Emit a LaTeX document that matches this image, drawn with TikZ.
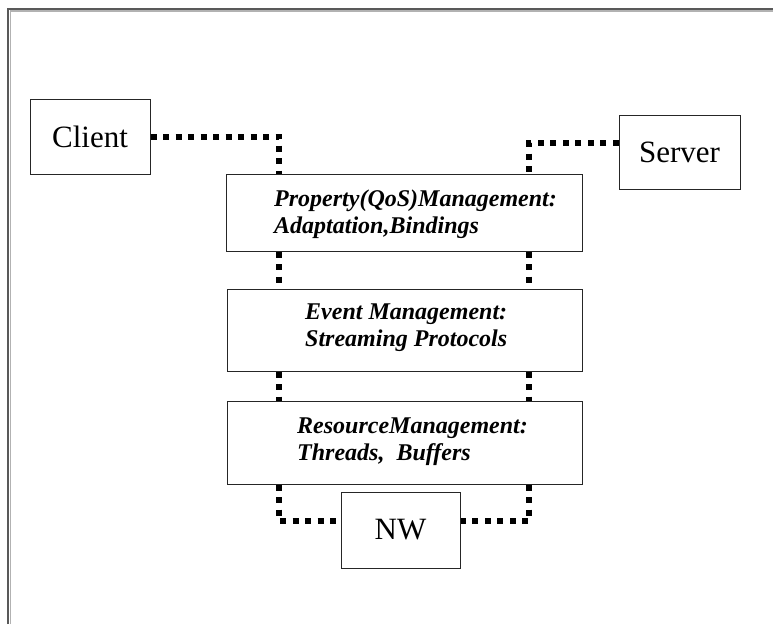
\documentclass[tikz,border=0pt]{standalone}
\usepackage{fontspec}
\setmainfont{Liberation Serif}
\begin{document}
\begin{tikzpicture}[x=1pt,y=-1pt,
  box/.style={draw=black!85, line width=1pt, fill=white, inner sep=0pt,
    rectangle, font=\fontsize{31}{34}\selectfont},
  layer/.style={box, minimum width=355pt},
  lbl/.style={inner sep=0pt, align=left, anchor=base west,
    font=\fontsize{24}{26.5}\selectfont\bfseries\itshape},
  dotline/.style={line width=6pt, dash pattern=on 6pt off 6.5pt, black}]
\useasboundingbox (0,0) rectangle (773,624);
% window frame
\draw[black!65, line width=2pt] (7.5,624) -- (7.5,8.5) -- (773,8.5);
\draw[black!30, line width=1.5pt] (10.5,624) -- (10.5,11) -- (773,11);

% columns of the two dotted paths
\coordinate (lx) at (279,0);
\coordinate (rx) at (529,0);

% boxes
\node[box, minimum width=120pt, minimum height=75pt] (cli) at (90,136.5) {Client};
\node[box, minimum width=121pt, minimum height=74pt] (srv) at (679.5,152) {Server};
\node[layer, minimum width=356pt, minimum height=77pt] (prop) at (404,212.5) {};
\node[layer, minimum height=82pt] (ev) at (404.5,330) {};
\node[layer, minimum height=83pt] (res) at (404.5,442.5) {};
\node[box, minimum width=119pt, minimum height=76pt] (nw) at (400.5,530) {NW};

% dotted connectors
\draw[dotline] (cli.east) -| (prop.north -| lx);
\draw[dotline] ([yshift=9pt]srv.west) -| (prop.north -| rx);
\draw[dotline] (prop.south -| lx) -- (ev.north -| lx);
\draw[dotline] (prop.south -| rx) -- (ev.north -| rx);
\draw[dotline] (ev.south -| lx) -- (res.north -| lx);
\draw[dotline] (ev.south -| rx) -- (res.north -| rx);
\draw[dotline] (res.south -| lx) |- ([yshift=9pt]nw.west);
\draw[dotline] (res.south -| rx) |- ([yshift=9pt]nw.east);

% layer texts (anchored at the baseline of their last line)
\node[lbl] (propt) at (274,233) {Property(QoS)Management:\\Adaptation,Bindings};
\node[lbl] (evt) at (305,346) {Event Management:\\Streaming Protocols};
\node[lbl] (rest) at (297,460) {ResourceManagement:\\Threads,\ \ Buffers};
\end{tikzpicture}
\end{document}
